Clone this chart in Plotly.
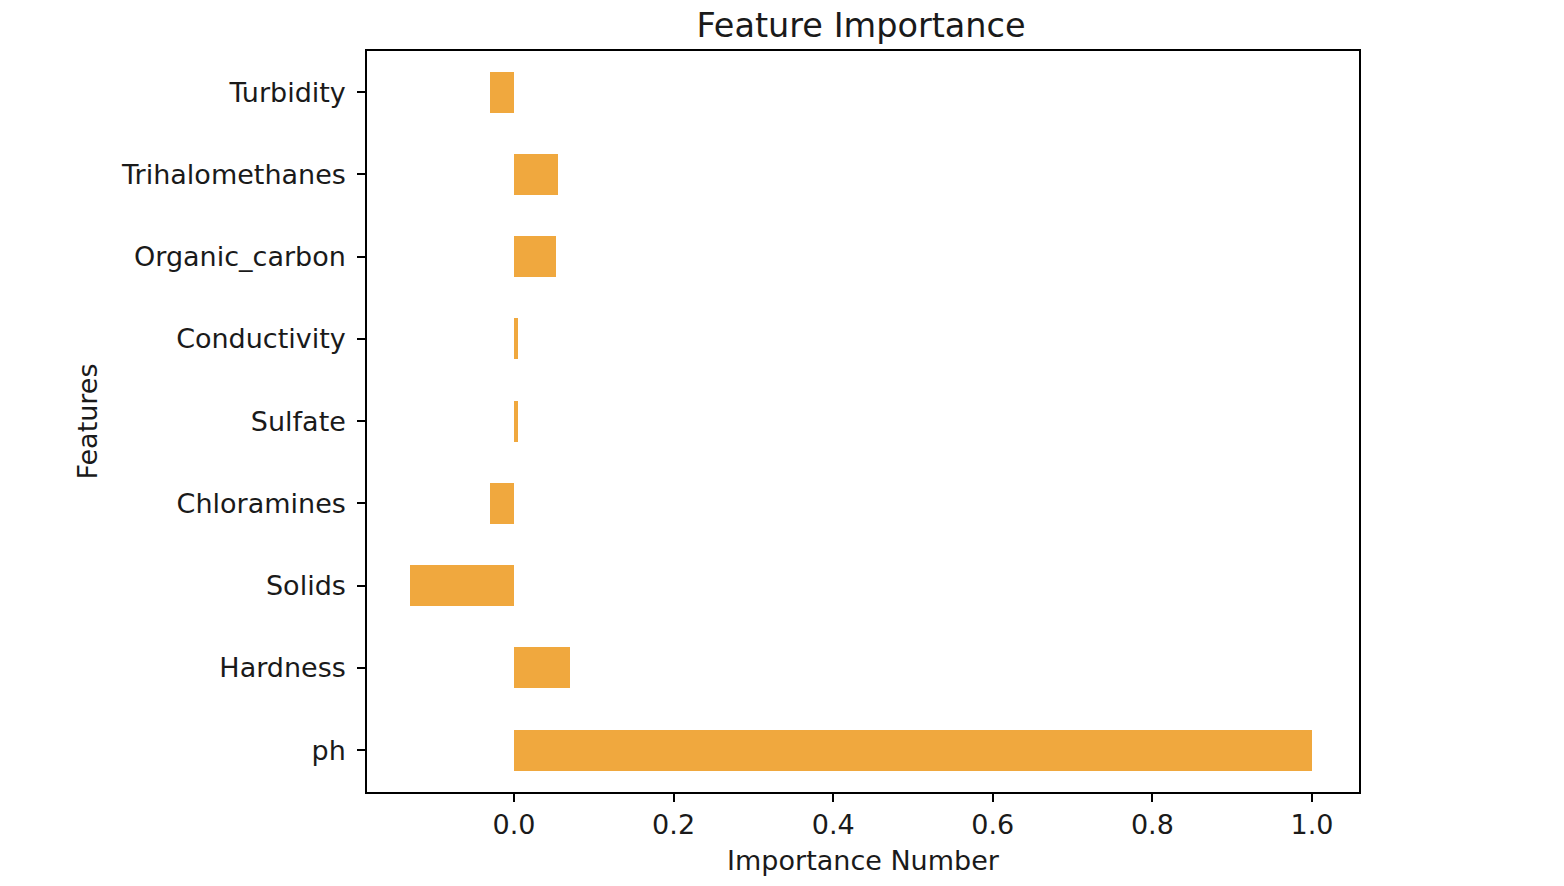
import plotly.graph_objects as go

features = ["ph", "Hardness", "Solids", "Chloramines", "Sulfate",
            "Conductivity", "Organic_carbon", "Trihalomethanes", "Turbidity"]
importance = [1.0, 0.070, -0.130, -0.030, 0.005, 0.005, 0.053, 0.055, -0.030]
x_ticks = [0.0, 0.2, 0.4, 0.6, 0.8, 1.0]
x_tick_labels = ["0.0", "0.2", "0.4", "0.6", "0.8", "1.0"]

bar_color = "#F0A83E"
font_family = "DejaVu Sans"
fs = 27

fig = go.Figure(go.Bar(
    x=importance, y=list(range(len(features))), orientation="h",
    width=0.5, marker=dict(color=bar_color, line=dict(width=0)),
))

fig.update_layout(
    width=1564, height=886,
    margin=dict(l=359, r=213, t=43, b=102),
    paper_bgcolor="white", plot_bgcolor="white",
    font=dict(family=font_family, size=fs, color="#1a1a1a"),
    showlegend=False,
    title=dict(text="Feature Importance", x=853 / 1564, xanchor="center",
               y=1 - 17 / 886, yanchor="middle", font=dict(size=33.5, family=font_family)),
    bargap=0,
)
fig.update_xaxes(
    range=[-0.1842, 1.0589], tickvals=x_ticks, ticktext=x_tick_labels,
    showgrid=False, zeroline=False, showline=True, linecolor="black", linewidth=1.5,
    mirror=True, ticks="outside", ticklen=8, tickwidth=1.5, tickcolor="black",
    ticklabelstandoff=0,
    title=dict(text="Importance Number", standoff=12, font=dict(size=fs)),
)
fig.update_yaxes(
    range=[-0.51, 8.5], tickvals=list(range(len(features))), ticktext=features,
    showgrid=False, zeroline=False, showline=True, linecolor="black", linewidth=1.5,
    mirror=True, ticks="outside", ticklen=8, tickwidth=1.5, tickcolor="black",
    ticklabelstandoff=6,
    title=dict(text="Features", standoff=16, font=dict(size=fs)),
)

fig.write_html("out.html")
